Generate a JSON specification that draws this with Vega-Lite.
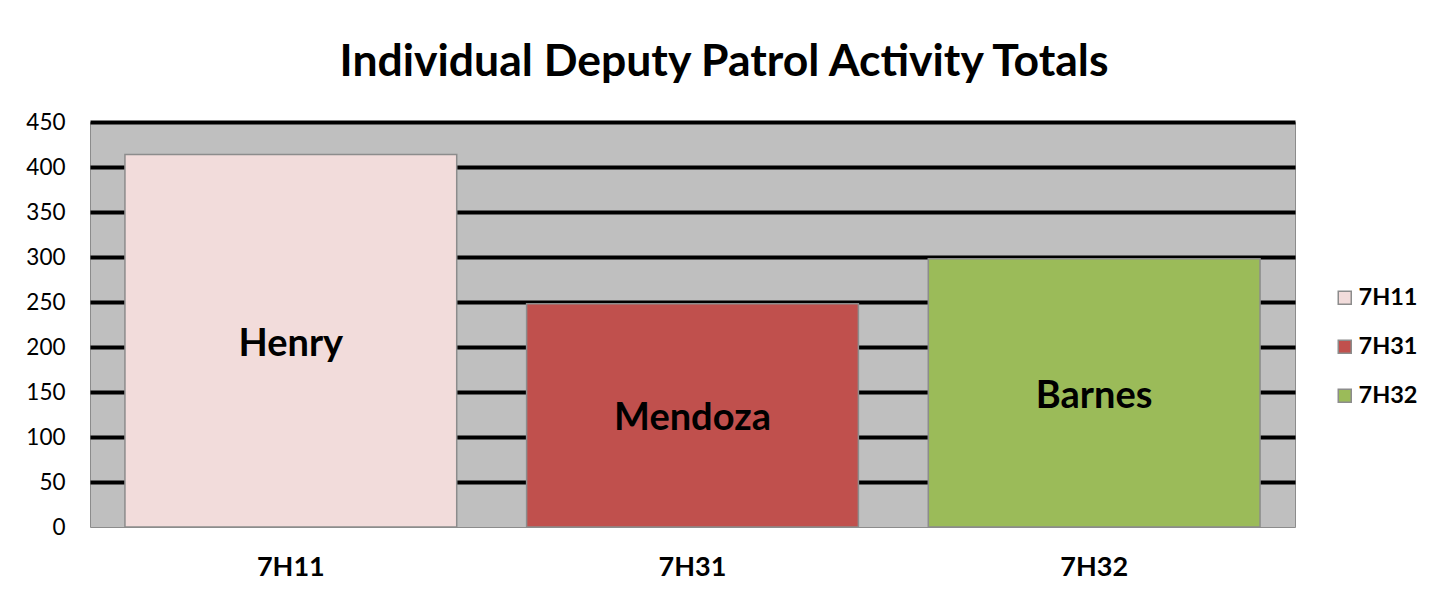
{
  "$schema": "https://vega.github.io/schema/vega-lite/v6.json",
  "width": 1205,
  "height": 405,
  "padding": {"left": 10, "top": 39, "right": 0, "bottom": 0},
  "background": "white",
  "title": {
    "text": "Individual Deputy Patrol Activity Totals",
    "font": "Lato",
    "fontSize": 44.5,
    "fontWeight": "bold",
    "color": "black",
    "anchor": "middle",
    "frame": "bounds",
    "dx": 10,
    "offset": 26
  },
  "data": {
    "values": [
      {"unit": "7H11", "name": "Henry", "count": 414},
      {"unit": "7H31", "name": "Mendoza", "count": 248},
      {"unit": "7H32", "name": "Barnes", "count": 298}
    ]
  },
  "transform": [{"calculate": "datum.count / 2", "as": "mid"}],
  "encoding": {
    "x": {
      "field": "unit",
      "type": "nominal",
      "sort": null,
      "scale": {"paddingInner": 0.174, "paddingOuter": 0.087},
      "axis": {
        "title": null,
        "labelAngle": 0,
        "labelFont": "Lato",
        "labelFontWeight": "bold",
        "labelFontSize": 27,
        "labelColor": "black",
        "labelPadding": 27,
        "ticks": false,
        "tickSize": 0,
        "domain": false,
        "grid": false
      }
    }
  },
  "layer": [
    {
      "mark": {"type": "bar", "stroke": "#8c8c8c", "strokeWidth": 1.5},
      "encoding": {
        "y": {
          "field": "count",
          "type": "quantitative",
          "scale": {"domain": [0, 450], "nice": false},
          "axis": {
            "title": null,
            "values": [0, 50, 100, 150, 200, 250, 300, 350, 400, 450],
            "labelFont": "Lato",
            "labelFontSize": 22.5,
            "labelColor": "black",
            "labelPadding": 25,
            "ticks": false,
            "tickSize": 0,
            "domain": false,
            "grid": true,
            "gridColor": {"condition": {"test": "datum.value === 0", "value": "transparent"}, "value": "black"},
            "gridWidth": 4,
            "gridOpacity": 1,
            "minExtent": 80,
            "maxExtent": 80
          }
        },
        "color": {
          "field": "unit",
          "type": "nominal",
          "scale": {"domain": ["7H11", "7H31", "7H32"], "range": ["#F2DCDB", "#C0504D", "#9BBB59"]},
          "legend": {
            "title": null,
            "orient": "none",
            "legendX": 1243,
            "legendY": 164,
            "symbolType": "square",
            "symbolSize": 169,
            "symbolStrokeColor": "#8c8c8c",
            "symbolStrokeWidth": 1.5,
            "symbolOpacity": 1,
            "labelFont": "Lato",
            "labelFontWeight": "bold",
            "labelFontSize": 23.5,
            "labelColor": "black",
            "labelOffset": 2,
            "rowPadding": 24
          }
        }
      }
    },
    {
      "mark": {"type": "text", "font": "Lato", "fontWeight": "bold", "fontSize": 38, "color": "black", "baseline": "middle", "align": "center", "dy": 4},
      "encoding": {
        "y": {"field": "mid", "type": "quantitative"},
        "text": {"field": "name"}
      }
    }
  ],
  "config": {
    "view": {"fill": "#BFBFBF", "stroke": "#8c8c8c", "strokeWidth": 1}
  }
}
